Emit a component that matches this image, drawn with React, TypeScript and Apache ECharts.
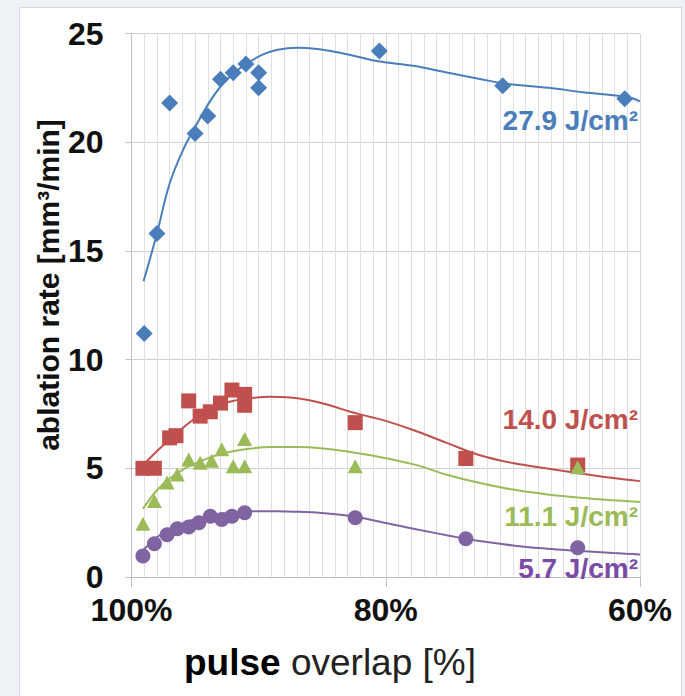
import React, { useEffect, useRef } from "react";
import * as echarts from "echarts";

// ---- data (pulse overlap %, ablation rate mm³/min) ----
const blueX = [99, 98, 97, 95, 94, 93, 92, 91, 90, 90, 80.5, 70.8, 61.2];
const blueY = [11.2, 15.8, 21.8, 20.4, 21.2, 22.9, 23.2, 23.6, 23.2, 22.5, 24.2, 22.6, 22.0];

const redX = [99.1, 98.2, 97.0, 96.5, 95.5, 94.6, 93.8, 93.0, 92.1, 91.1, 91.1, 82.4, 73.7, 64.9];
const redY = [5.0, 5.0, 6.4, 6.5, 8.1, 7.4, 7.6, 8.0, 8.6, 8.4, 7.9, 7.1, 5.45, 5.15];

const greenX = [99.1, 98.2, 97.2, 96.4, 95.5, 94.6, 93.7, 92.9, 92.0, 91.1, 91.1, 82.4, 64.9];
const greenY = [2.45, 3.5, 4.35, 4.72, 5.4, 5.25, 5.35, 5.88, 5.1, 6.35, 5.1, 5.1, 5.05];

const purpleX = [99.1, 98.2, 97.2, 96.4, 95.5, 94.7, 93.8, 92.9, 92.1, 91.1, 82.4, 73.7, 64.9];
const purpleY = [0.97, 1.53, 1.94, 2.22, 2.3, 2.5, 2.79, 2.64, 2.79, 2.95, 2.73, 1.76, 1.35];

// trend lines
const blueTrendX = [99.05, 98.0, 97.0, 95.9, 94.9, 93.8, 92.8, 91.7, 90.7, 89.6, 88.5, 87.0, 85.4, 83.8, 82.2, 80.6, 77.7, 75.1, 72.5, 70.7, 67.2, 64.5, 61.0, 60.0];
const blueTrendY = [13.6, 15.8, 18.1, 19.7, 20.8, 21.9, 22.7, 23.3, 23.7, 24.05, 24.25, 24.34, 24.29, 24.14, 23.93, 23.72, 23.5, 23.19, 22.9, 22.7, 22.5, 22.3, 22.08, 21.88];

const redTrendX = [99.1, 97.5, 95.2, 93.6, 92.3, 90.9, 89.1, 87.5, 86.0, 84.4, 82.8, 81.2, 80.0, 77.8, 75.2, 72.6, 70.0, 67.3, 64.7, 62.1, 60.0];
const redTrendY = [5.14, 6.06, 7.21, 7.75, 8.06, 8.21, 8.29, 8.26, 8.13, 7.9, 7.6, 7.36, 7.18, 6.75, 6.17, 5.6, 5.24, 4.99, 4.76, 4.55, 4.41];

const greenTrendX = [99.1, 98.0, 97.0, 95.7, 94.4, 92.8, 91.2, 89.1, 87.0, 84.9, 82.8, 81.2, 77.8, 75.2, 72.6, 70.0, 67.3, 64.7, 62.1, 60.0];
const greenTrendY = [3.14, 3.99, 4.53, 5.03, 5.37, 5.68, 5.86, 5.98, 5.98, 5.91, 5.75, 5.6, 5.18, 4.7, 4.32, 4.02, 3.8, 3.65, 3.53, 3.45];

const purpleTrendX = [99.1, 98.0, 96.7, 94.9, 92.8, 90.7, 88.6, 86.5, 84.4, 82.3, 79.7, 77.8, 73.7, 70.0, 67.3, 64.7, 62.1, 60.0];
const purpleTrendY = [1.22, 1.83, 2.29, 2.68, 2.91, 3.03, 3.03, 2.99, 2.91, 2.76, 2.45, 2.22, 1.76, 1.45, 1.3, 1.2, 1.1, 1.04];

const seriesLabels = ["27.9 J/cm²", "14.0 J/cm²", "11.1 J/cm²", "5.7 J/cm²"];
const xTickLabels: Record<number, string> = { 100: "100%", 80: "80%", 60: "60%" };

const BLUE = "#4a7ebb";
const RED = "#c0504d";
const GREEN = "#9bbb59";
const PURPLE = "#8064a2";
const FONT = '"Liberation Sans", Arial, sans-serif';

const pairs = (xs: number[], ys: number[]) => xs.map((x, i) => [x, ys[i]]);

export default function App() {
  const ref = useRef<HTMLDivElement>(null);
  useEffect(() => {
    if (!ref.current) return;
    const chart = echarts.init(ref.current, undefined, { renderer: "svg" });
    const trend = (name: string, xs: number[], ys: number[], color: string) => ({
      name,
      type: "line",
      data: pairs(xs, ys),
      smooth: 0.4,
      showSymbol: false,
      symbol: "none",
      lineStyle: { color, width: 2 },
      z: 2,
    });
    const scatter = (name: string, xs: number[], ys: number[], color: string, symbol: string, size: number | number[]) => ({
      name,
      type: "scatter",
      data: pairs(xs, ys),
      symbol,
      symbolSize: size,
      itemStyle: { color, opacity: 1 },
      z: 3,
    });
    const label = (text: string, y: number, color: string) => ({
      type: "text",
      x: 638,
      y,
      z: 100,
      style: { text, fontFamily: FONT, fontWeight: "bold", fontSize: 28, fill: color, textAlign: "right", textVerticalAlign: "middle" },
    });
    chart.setOption({
      animation: false,
      grid: { left: 131.5, top: 33.5, width: 508.5, height: 543.5, show: false },
      xAxis: {
        type: "value",
        min: 60,
        max: 100,
        interval: 20,
        inverse: true,
        axisLine: { show: true, lineStyle: { color: "#bfbfbf", width: 1 } },
        axisTick: { show: true, length: 10, lineStyle: { color: "#bfbfbf" } },
        axisLabel: {
          margin: 17,
          fontFamily: FONT,
          fontWeight: "bold",
          fontSize: 32,
          color: "#111",
          formatter: (v: number) => xTickLabels[v] ?? "",
        },
        splitLine: { show: true, lineStyle: { color: "#d9d9d9", width: 1 } },
        minorTick: { show: false, splitNumber: 20 },
        minorSplitLine: { show: true, lineStyle: { color: "#e0e0e0", width: 1 } },
      },
      yAxis: {
        type: "value",
        min: 0,
        max: 25,
        interval: 5,
        axisLine: { show: true, lineStyle: { color: "#bfbfbf", width: 1 } },
        axisTick: { show: true, length: 6, lineStyle: { color: "#bfbfbf" } },
        axisLabel: {
          margin: 28,
          fontFamily: FONT,
          fontWeight: "bold",
          fontSize: 32,
          color: "#111",
        },
        splitLine: { show: true, lineStyle: { color: "#d0d0d0", width: 1 } },
      },
      series: [
        trend("t1", blueTrendX, blueTrendY, BLUE),
        trend("t2", redTrendX, redTrendY, RED),
        trend("t3", greenTrendX, greenTrendY, GREEN),
        trend("t4", purpleTrendX, purpleTrendY, PURPLE),
        scatter(seriesLabels[0], blueX, blueY, BLUE, "diamond", 17),
        scatter(seriesLabels[1], redX, redY, RED, "rect", 15),
        scatter(seriesLabels[2], greenX, greenY, GREEN, "triangle", [15, 14]),
        scatter(seriesLabels[3], purpleX, purpleY, PURPLE, "circle", 15),
      ],
      graphic: [
        {
          type: "text",
          x: 48,
          y: 285,
          z: 100,
          rotation: Math.PI / 2,
          style: {
            text: "ablation rate [mm³/min]",
            fontFamily: FONT,
            fontWeight: "bold",
            fontSize: 30,
            fill: "#111",
            textAlign: "center",
            textVerticalAlign: "middle",
          },
        },
        {
          type: "text",
          x: 330,
          y: 662,
          z: 100,
          style: {
            text: "{b|pulse }{n|overlap [%]}",
            textAlign: "center",
            textVerticalAlign: "middle",
            rich: {
              b: { fontFamily: FONT, fontWeight: "bold", fontSize: 37, fill: "#000" },
              n: { fontFamily: FONT, fontWeight: "normal", fontSize: 37, fill: "#222" },
            },
          },
        },
        label(seriesLabels[0], 120, BLUE),
        label(seriesLabels[1], 419, RED),
        label(seriesLabels[2], 516, GREEN),
        label(seriesLabels[3], 568, "#7a4aa6"),
      ],
    });
    return () => chart.dispose();
  }, []);

  return (
    <div style={{ position: "fixed", left: 0, top: 0, width: 685, height: 696, background: "#eef2f7", overflow: "hidden" }}>
      <div
        style={{
          position: "absolute",
          left: 19,
          top: 7,
          width: 663,
          height: 700,
          background: "#ffffff",
          border: "1px solid #d6d9dd",
          boxSizing: "border-box",
        }}
      />
      <div ref={ref} style={{ position: "absolute", left: 0, top: 0, width: 685, height: 696 }} />
    </div>
  );
}
